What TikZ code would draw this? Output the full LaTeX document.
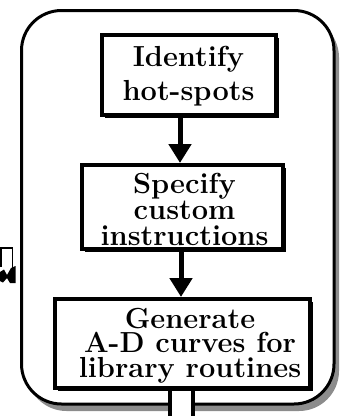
\documentclass[tikz,border=0pt]{standalone}
\usetikzlibrary{arrows.meta,shadows}
\begin{document}
\begin{tikzpicture}[x=1pt,y=-1pt]
\tikzset{
 frame/.style={draw, line width=3pt, rounded corners=40pt, fill=white,
   minimum width=312.5pt, minimum height=393.5pt, inner sep=0pt,
   drop shadow={shadow xshift=5pt, shadow yshift=-7pt, fill=black!45, opacity=1}},
 procbox/.style={draw, line width=4pt, fill=white, inner sep=0pt,
   drop shadow={shadow xshift=3pt, shadow yshift=-3pt, fill=black, opacity=1}},
 boxtext/.style={align=center, inner sep=0pt},
 flow/.style={line width=5pt, -{Triangle[width=22pt,length=19pt]}},
 hollow/.style={line width=4pt},
 fragment/.style={line width=1.6pt},
}
\useasboundingbox (0,0) rectangle (340,416);
\clip (0,0) rectangle (340,416);

\node[frame] (frame) at (177.75,207.25) {};

\node[procbox, minimum width=174pt, minimum height=80pt] (b1) at (189,75) {};
\node[boxtext, font=\fontsize{29}{34}\selectfont\bfseries] (t1) at (188.5,75.8) {Identify\\hot-spots};

\node[procbox, minimum width=201pt, minimum height=84pt] (b2) at (182.5,207) {};
\node[boxtext, font=\fontsize{29}{26}\selectfont\bfseries] (t2) at (184.5,209) {Specify\\custom\\instructions};

\node[procbox, minimum width=255pt, minimum height=89pt] (b3) at (182.5,343.5) {};
\node[boxtext, font=\fontsize{29}{24.5}\selectfont\bfseries] (t3) at (190,345.4) {Generate\\A-D curves for\\library routines};

\coordinate (a1) at (180,0);
\coordinate (a2) at (181,0);
\draw[flow] (b1.south -| a1) -- (b2.north -| a1);
\draw[flow] (b2.south -| a2) -- (b3.north -| a2);

\coordinate (hl) at (170,420);
\coordinate (hr) at (193,420);
\fill[white] ([yshift=-3pt]b3.south -| hl) rectangle (hr);
\draw[hollow] (b3.south -| hl) -- (hl);
\draw[hollow] (b3.south -| hr) -- (hr);

\draw[fragment] (1,267) -- (1,248) -- (12.5,248) -- (12.5,268);
\fill (0,272) -- (4,269.5) -- (7,275) -- (11,268) -- (15.5,266) -- (15.5,283) -- (10,283) -- (7,278) -- (3,282.5) -- (0,281) -- cycle;
\end{tikzpicture}
\end{document}
